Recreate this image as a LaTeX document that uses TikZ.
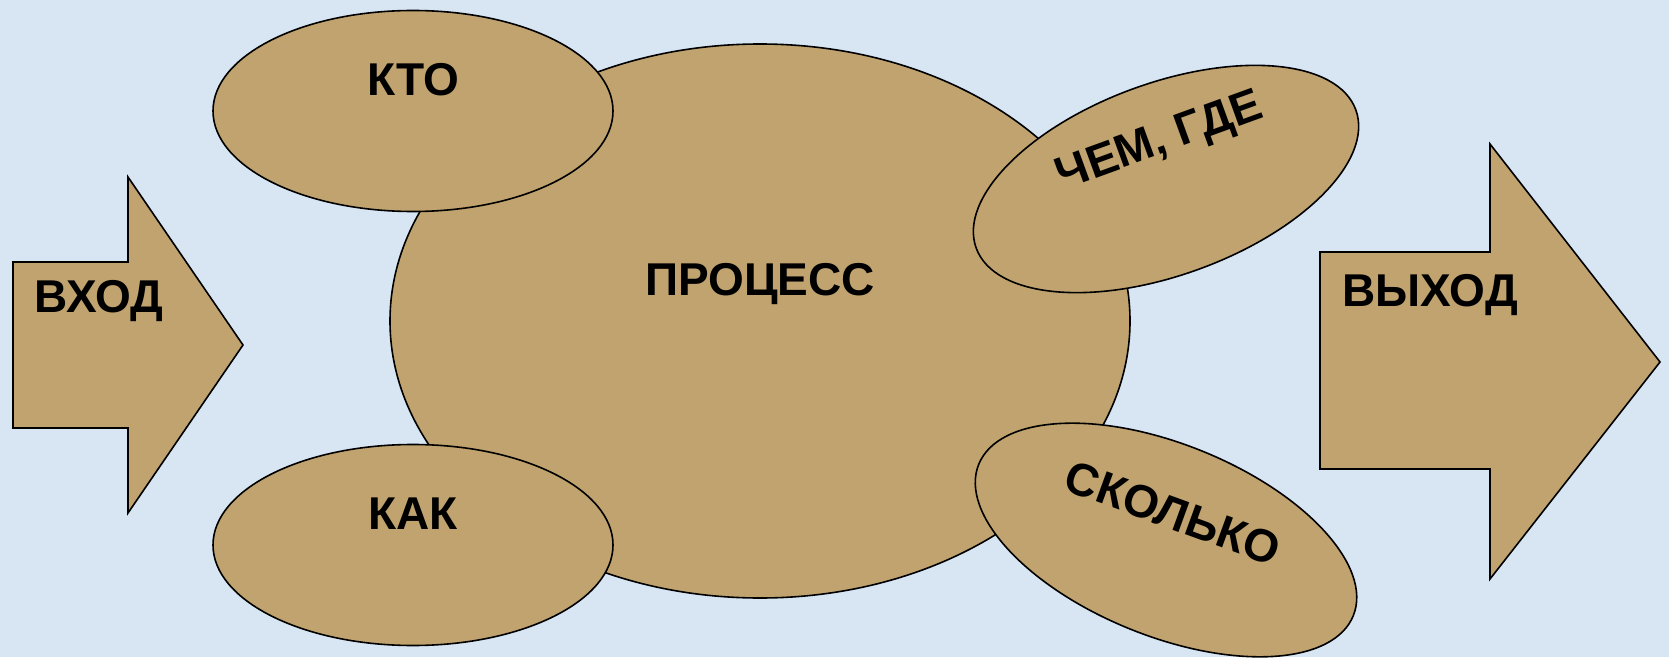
\documentclass[tikz,border=0pt]{standalone}
\usepackage{fontspec}
\setmainfont{Liberation Sans}
\usetikzlibrary{shapes.geometric}
\definecolor{bgblue}{HTML}{D8E6F4}
\definecolor{burlap}{HTML}{C0A36E}
\tikzset{
  sack/.style={draw=black, line width=1.6pt, fill=burlap},
  bag/.style={sack, ellipse, inner sep=0pt},
  word/.style={font=\fontsize{46}{50}\selectfont\bfseries, text=black, inner sep=0pt}
}
\begin{document}
\begin{tikzpicture}[x=1pt,y=1pt]
\fill[bgblue] (0,0) rectangle (1669,657);
\useasboundingbox (0,0) rectangle (1669,657);
% arrows
\draw[sack] (13,395) -- (128,395) -- (128,480) -- (243,312) -- (128,144) -- (128,229) -- (13,229) -- cycle;
\draw[sack] (1320,405) -- (1490,405) -- (1490,513) -- (1660,295) -- (1490,78) -- (1490,188) -- (1320,188) -- cycle;
% ellipses
\node[bag, minimum width=740pt, minimum height=554pt] (proc) at (760,336) {};
\node[bag, minimum width=400pt, minimum height=201pt] (kto) at (413,546) {};
\node[bag, minimum width=400pt, minimum height=201pt] (kak) at (413,112) {};
\node[bag, minimum width=404pt, minimum height=192pt, rotate=20] (chem) at (1166,478) {};
\node[bag, minimum width=404pt, minimum height=192pt, rotate=-22] (skolko) at (1166,117) {};
% texts
\node[word] (tproc) at (760,373) {ПРОЦЕСС};
\node[word] (tkto) at (413,577) {КТО};
\node[word] (tkak) at (413,143) {КАК};
\node[word, rotate=20] (tchem) at (1160,514) {ЧЕМ, ГДЕ};
\node[word, rotate=-20] (tskolko) at (1173,144) {СКОЛЬКО};
\node[word] (tin) at (99,356) {ВХОД};
\node[word] (tout) at (1430,362) {ВЫХОД};
\end{tikzpicture}
\end{document}
